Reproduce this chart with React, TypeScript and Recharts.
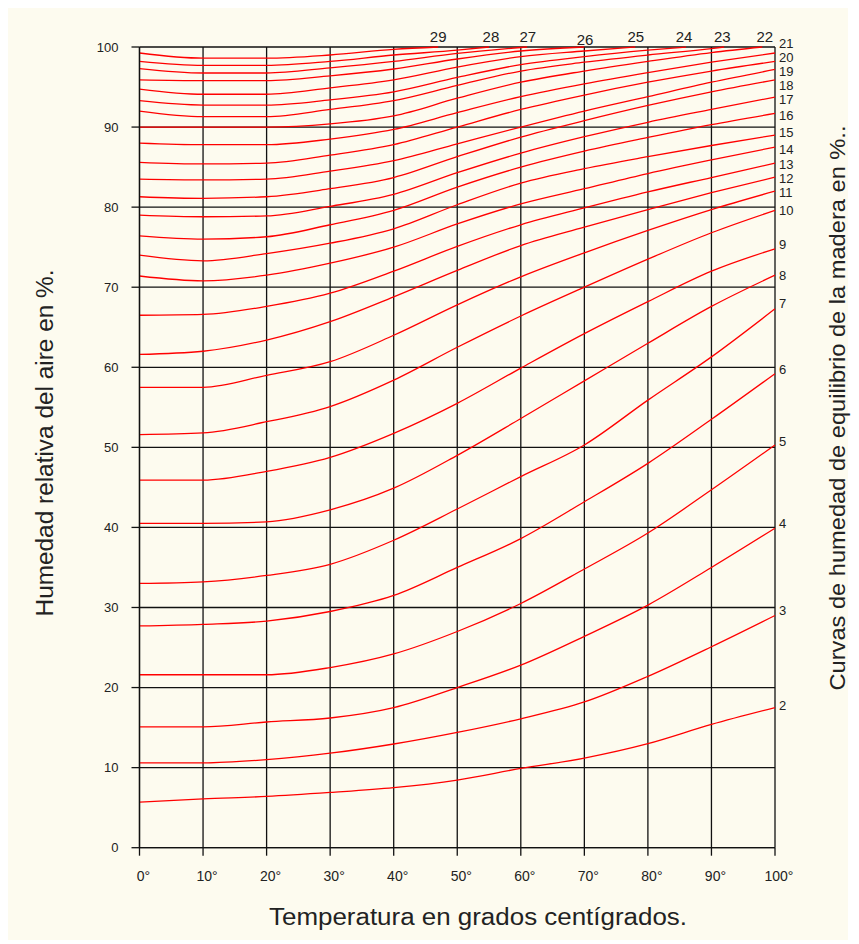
import { LineChart, Line, XAxis, YAxis, CartesianGrid, ReferenceDot } from 'recharts';

// temperatura (°C) at which each curve is read
const temps = [0, 10, 20, 30, 40, 50, 60, 70, 80, 90, 100];

// humedad relativa (%) for each equilibrium moisture curve
const emc02 = [5.7, 6.1, 6.4, 6.9, 7.5, 8.45, 9.9, 11.2, 13.0, 15.4, 17.5];
const emc03 = [10.6, 10.6, 11.0, 11.8, 12.95, 14.4, 16.1, 18.2, 21.4, 25.1, 29.0];
const emc04 = [15.1, 15.1, 15.7, 16.2, 17.5, 20.0, 22.8, 26.4, 30.3, 35.0, 39.9];
const emc05 = [21.6, 21.6, 21.6, 22.5, 24.2, 27.0, 30.5, 34.8, 39.3, 44.7, 50.3];
const emc06 = [27.7, 27.9, 28.3, 29.5, 31.5, 35.0, 38.6, 43.2, 48.0, 53.5, 59.2];
const emc07 = [33.0, 33.2, 34.0, 35.4, 38.4, 42.3, 46.35, 50.3, 55.9, 61.3, 67.3];
const emc08 = [40.5, 40.5, 40.7, 42.2, 44.9, 49.0, 53.6, 58.3, 63.0, 67.6, 71.5];
const emc09 = [45.9, 45.9, 47.0, 48.75, 51.75, 55.5, 59.9, 64.2, 68.2, 72.0, 74.8];
const emc10 = [51.6, 51.8, 53.2, 55.1, 58.4, 62.5, 66.4, 70.0, 73.5, 76.8, 79.6];
const emc11 = [57.5, 57.5, 59.0, 60.7, 64.0, 67.8, 71.3, 74.3, 77.1, 79.7, 82.0];
const emc12 = [61.6, 62.0, 63.4, 65.7, 68.8, 72.1, 75.2, 77.5, 79.7, 81.8, 83.75];
const emc13 = [66.5, 66.6, 67.6, 69.25, 72.0, 75.1, 77.8, 79.9, 81.9, 83.7, 85.5];
const emc14 = [71.4, 70.8, 71.5, 73.0, 75.0, 77.9, 80.4, 82.3, 84.2, 85.9, 87.5];
const emc15 = [74.0, 73.3, 74.2, 75.5, 77.3, 80.3, 83.0, 84.8, 86.3, 87.7, 89.0];
const emc16 = [76.4, 76.0, 76.3, 77.8, 79.6, 82.5, 85.0, 87.0, 88.7, 90.3, 91.7];
const emc17 = [79.0, 78.8, 78.9, 80.1, 81.6, 84.3, 86.75, 88.8, 90.6, 92.2, 93.75];
const emc18 = [81.3, 81.1, 81.3, 82.3, 83.7, 86.3, 88.75, 90.8, 92.7, 94.4, 95.9];
const emc19 = [83.5, 83.4, 83.5, 84.5, 85.8, 87.9, 90.0, 92.0, 93.8, 95.6, 97.2];
const emc20 = [85.6, 85.4, 85.5, 86.5, 87.8, 90.0, 92.2, 94.0, 95.6, 97.0, 98.2];
const emc21 = [88.0, 87.8, 87.8, 88.5, 89.7, 91.8, 93.8, 95.4, 96.8, 98.1, 99.25];
const emc22 = [90.0, 90.0, 90.0, 90.4, 91.4, 93.6, 95.6, 97.0, 98.2, 99.3];
const emc23 = [92.0, 91.3, 91.3, 92.2, 93.3, 95.2, 97.0, 98.1, 99.0, 99.8];
const emc24 = [93.3, 92.75, 92.75, 93.4, 94.4, 96.2, 97.8, 98.8, 99.6];
const emc25 = [94.75, 94.1, 94.1, 94.9, 95.9, 97.5, 98.8, 99.5];
const emc26 = [95.9, 95.8, 95.8, 96.4, 97.25, 98.5, 99.5];
const emc27 = [97.3, 96.75, 96.75, 97.4, 98.2, 99.2];
const emc28 = [98.2, 97.7, 97.7, 98.2, 99.0, 99.6];
const emc29 = [99.25, 98.6, 98.6, 99.0, 99.7];

// temperature where curves 22..29 reach 100 %
const topEnd: Record<number, number> = { 22: 98, 23: 92, 24: 86, 25: 78, 26: 70, 27: 61, 28: 55, 29: 47 };

// curve numbers written at the right border
const rightLabelNums = [2, 3, 4, 5, 6, 7, 8, 9, 10, 11, 12, 13, 14, 15, 16, 17, 18, 19, 20, 21];
const rightLabelY = [17.8, 29.7, 40.5, 50.8, 59.7, 68.0, 71.5, 75.3, 79.6, 81.9, 83.6, 85.4, 87.2, 89.3, 91.5, 93.5, 95.2, 96.9, 98.7, 100.4];

// curve numbers written above the top border
const topLabelNums = [29, 28, 27, 26, 25, 24, 23, 22];
const topLabelT = [47.0, 55.3, 61.1, 70.1, 78.1, 85.7, 91.7, 98.4];
const topLabelY = [101.25, 101.25, 101.25, 100.9, 101.25, 101.25, 101.25, 101.25];

const ticks = [0, 10, 20, 30, 40, 50, 60, 70, 80, 90, 100];

const curves: [number, number[]][] = [
  [2, emc02], [3, emc03], [4, emc04], [5, emc05], [6, emc06], [7, emc07],
  [8, emc08], [9, emc09], [10, emc10], [11, emc11], [12, emc12], [13, emc13],
  [14, emc14], [15, emc15], [16, emc16], [17, emc17], [18, emc18], [19, emc19],
  [20, emc20], [21, emc21], [22, emc22], [23, emc23], [24, emc24], [25, emc25],
  [26, emc26], [27, emc27], [28, emc28], [29, emc29],
];

function toPoints(n: number, vals: number[]) {
  const pts = vals.map((h, i) => ({ t: temps[i], h }));
  if (topEnd[n] !== undefined) pts.push({ t: topEnd[n], h: 100 });
  return pts;
}

const BG = '#fdfbef';
const FONT = '"Liberation Sans", Arial, sans-serif';

export default function App() {
  return (
    <div style={{ position: 'relative', width: 840, height: 933, background: BG, marginTop: -1, fontFamily: FONT }}>
      <LineChart width={840} height={933} margin={{ top: 40, right: 73, bottom: 0, left: 0 }}>
        <CartesianGrid stroke="#111" strokeWidth={1.3} />
        <XAxis
          type="number"
          dataKey="t"
          domain={[0, 100]}
          ticks={ticks}
          interval={0}
          height={92.3}
          tickFormatter={(v: number) => `${v}°`}
          stroke="#111"
          strokeWidth={1.3}
          tickSize={8}
          tickMargin={15}
          tick={{ fill: '#222', fontSize: 14, dx: 4, fontFamily: FONT }}
        />
        <YAxis
          type="number"
          domain={[0, 100]}
          ticks={ticks}
          interval={0}
          width={131.5}
          stroke="#111"
          strokeWidth={1.3}
          tickSize={8}
          tickMargin={13}
          tick={{ fill: '#222', fontSize: 13, fontFamily: FONT }}
        />
        {curves.map(([n, vals]) => (
          <Line
            key={n}
            data={toPoints(n, vals)}
            dataKey="h"
            type="monotone"
            stroke="#ff0000"
            strokeWidth={1.3}
            dot={false}
            activeDot={false}
            isAnimationActive={false}
          />
        ))}
        {rightLabelNums.map((n, i) => (
          <ReferenceDot
            key={`r${n}`}
            x={100}
            y={rightLabelY[i]}
            r={0}
            fill="none"
            stroke="none"
            ifOverflow="visible"
            label={{ value: String(n), position: 'right', offset: 4, fontSize: 13, fill: '#222', fontFamily: FONT }}
          />
        ))}
        {topLabelNums.map((n, i) => (
          <ReferenceDot
            key={`t${n}`}
            x={topLabelT[i]}
            y={topLabelY[i]}
            r={0}
            fill="none"
            stroke="none"
            ifOverflow="visible"
            label={{ value: String(n), position: 'center', fontSize: 15, fill: '#222', fontFamily: FONT }}
          />
        ))}
      </LineChart>
      <svg width={840} height={933} style={{ position: 'absolute', left: 0, top: 0, pointerEvents: 'none', overflow: 'visible' }}>
        <text
          transform="translate(37,436) rotate(-90)"
          textAnchor="middle"
          dominantBaseline="central"
          fontSize={23}
          fill="#222"
          fontFamily={FONT}
          textLength={347}
          lengthAdjust="spacingAndGlyphs"
        >
          Humedad relativa del aire en %.
        </text>
        <text
          transform="translate(829,401) rotate(-90)"
          textAnchor="middle"
          dominantBaseline="central"
          fontSize={22}
          fill="#222"
          fontFamily={FONT}
          textLength={565}
          lengthAdjust="spacingAndGlyphs"
        >
          Curvas de humedad de equilibrio de la madera en %..
        </text>
        <text
          x={470}
          y={910}
          textAnchor="middle"
          dominantBaseline="central"
          fontSize={23}
          fill="#222"
          fontFamily={FONT}
          textLength={418}
          lengthAdjust="spacingAndGlyphs"
        >
          Temperatura en grados centígrados.
        </text>
      </svg>
    </div>
  );
}
